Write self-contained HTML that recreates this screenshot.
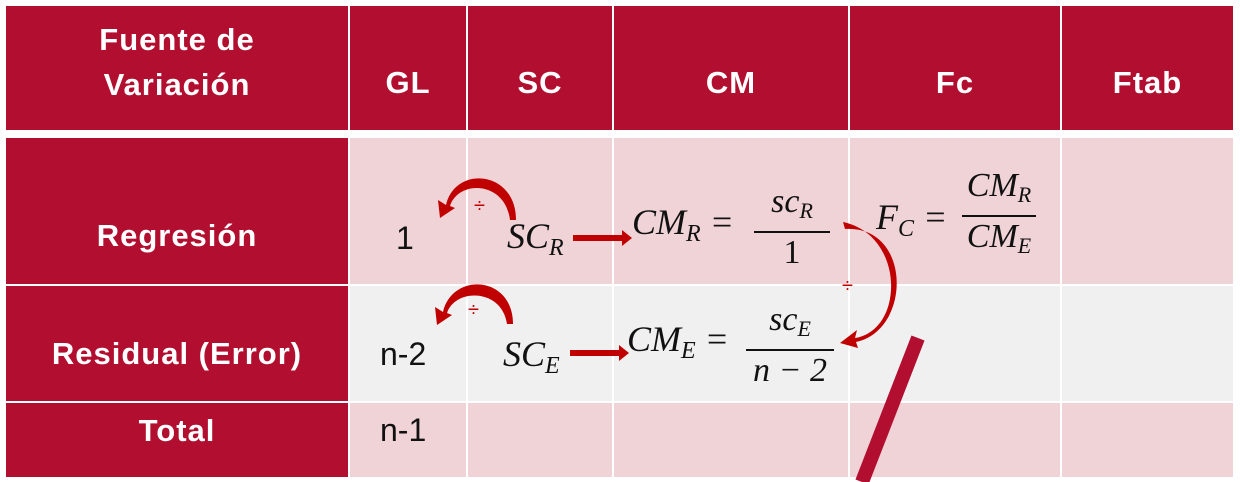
<!DOCTYPE html>
<html><head><meta charset="utf-8"><style>
body{margin:0;width:1240px;height:482px;background:#fff;overflow:hidden;position:relative;font-family:"Liberation Sans",sans-serif}
.c{position:absolute;box-sizing:border-box}
.h{background:#b20e2f;color:#fff;font-weight:bold;font-size:31px;display:flex;align-items:center;justify-content:center;text-align:center;line-height:1.45;letter-spacing:1px}
.p{background:#f0d3d6}.g{background:#f0f0f0}
.t{position:absolute;font-size:32px;color:#111}
.m{position:absolute;font-family:"Liberation Serif",serif;font-style:italic;font-size:36px;color:#111;white-space:nowrap}
.m sub{font-size:24px;vertical-align:-7px}
.fr{position:absolute;display:flex;flex-direction:column;align-items:center;font-family:"Liberation Serif",serif;font-style:italic;font-size:34px;color:#111;line-height:40px}
.fr .ln{border-top:2px solid #111;align-self:stretch}
.fr sub{font-size:22px;vertical-align:-6px}
</style></head><body>
<div class="c h" style="left:6px;top:6px;width:342px;height:124px;padding-bottom:10px">Fuente de<br>Variación</div>
<div class="c h" style="left:350px;top:6px;width:116px;height:124px;padding-top:30px">GL</div>
<div class="c h" style="left:468px;top:6px;width:144px;height:124px;padding-top:30px">SC</div>
<div class="c h" style="left:614px;top:6px;width:234px;height:124px;padding-top:30px">CM</div>
<div class="c h" style="left:850px;top:6px;width:210px;height:124px;padding-top:30px">Fc</div>
<div class="c h" style="left:1062px;top:6px;width:171px;height:124px;padding-top:30px">Ftab</div>

<div class="c h" style="left:6px;top:138px;width:342px;height:146px;padding-top:50px">Regresión</div>
<div class="c h" style="left:6px;top:286px;width:342px;height:115px;padding-top:22px">Residual (Error)</div>
<div class="c h" style="left:6px;top:403px;width:342px;height:74px;padding-bottom:18px">Total</div>

<div class="c p" style="left:350px;top:138px;width:116px;height:146px"></div>
<div class="c p" style="left:468px;top:138px;width:144px;height:146px"></div>
<div class="c p" style="left:614px;top:138px;width:234px;height:146px"></div>
<div class="c p" style="left:850px;top:138px;width:210px;height:146px"></div>
<div class="c p" style="left:1062px;top:138px;width:171px;height:146px"></div>
<div class="c g" style="left:350px;top:286px;width:116px;height:115px"></div>
<div class="c g" style="left:468px;top:286px;width:144px;height:115px"></div>
<div class="c g" style="left:614px;top:286px;width:234px;height:115px"></div>
<div class="c g" style="left:850px;top:286px;width:210px;height:115px"></div>
<div class="c g" style="left:1062px;top:286px;width:171px;height:115px"></div>
<div class="c p" style="left:350px;top:403px;width:116px;height:74px"></div>
<div class="c p" style="left:468px;top:403px;width:144px;height:74px"></div>
<div class="c p" style="left:614px;top:403px;width:234px;height:74px"></div>
<div class="c p" style="left:850px;top:403px;width:210px;height:74px"></div>
<div class="c p" style="left:1062px;top:403px;width:171px;height:74px"></div>

<div class="t" style="left:396px;top:220px">1</div>
<div class="t" style="left:380px;top:336px">n-2</div>
<div class="t" style="left:380px;top:412px">n-1</div>

<div class="m" style="left:507px;top:215px">SC<sub>R</sub></div>
<div class="m" style="left:503px;top:333px">SC<sub>E</sub></div>
<div class="m" style="left:632px;top:201px">CM<sub>R</sub> =</div>
<div class="fr" style="left:754px;top:182px;width:76px"><span>sc<sub>R</sub></span><div class="ln"></div><span style="font-style:normal">1</span></div>
<div class="m" style="left:627px;top:318px">CM<sub>E</sub> =</div>
<div class="fr" style="left:746px;top:300px;width:88px"><span>sc<sub>E</sub></span><div class="ln"></div><span>n − 2</span></div>
<div class="m" style="left:876px;top:196px">F<sub>C</sub> =</div>
<div class="fr" style="left:962px;top:166px;width:74px"><span>CM<sub>R</sub></span><div class="ln"></div><span>CM<sub>E</sub></span></div>

<svg width="1240" height="482" style="position:absolute;left:0;top:0">
<g fill="#c00000">
<path d="M516,220 C516,170 455,165 446,205 L438,200 L440,218 L455,208 L450,206 C458,180 505,180 510,220 Z"/>
<path d="M513,324 C513,275 452,272 443,312 L435,307 L437,325 L452,315 L447,313 C455,288 502,288 507,324 Z"/>
<path d="M843,222 C905,235 905,330 855,338 L857,330 L840,343 L858,348 L856,342 C912,330 912,225 845,229 Z"/>
<rect x="573" y="235" width="50" height="6"/><path d="M622,230 L632,238 L622,246Z"/>
<rect x="570" y="350" width="50" height="6"/><path d="M619,345 L629,353 L619,361Z"/>
</g>
<g fill="#c00000" font-family="Liberation Sans" font-size="20"><text x="474" y="212">÷</text><text x="468" y="316">÷</text><text x="842" y="292">÷</text></g>
<line x1="918" y1="338" x2="862" y2="482" stroke="#b20e2f" stroke-width="14"/>
</svg>
</body></html>
